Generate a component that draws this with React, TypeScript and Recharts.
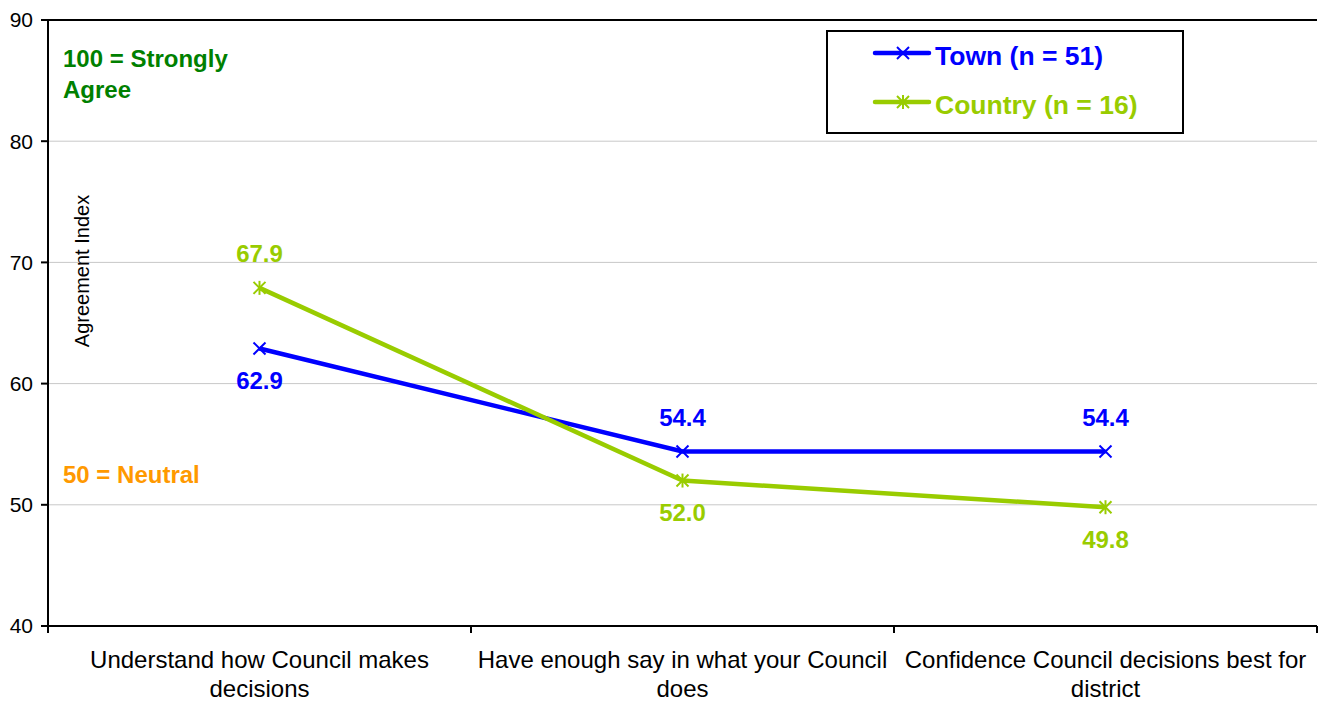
import React from "react";
import {
  LineChart,
  Line,
  XAxis,
  YAxis,
  CartesianGrid,
  ReferenceLine,
  LabelList,
  Legend,
} from "recharts";

const categories = [
  "Understand how Council makes decisions",
  "Have enough say in what your Council does",
  "Confidence Council decisions best for district",
];
const categoryLines = [
  ["Understand how Council makes", "decisions"],
  ["Have enough say in what your Council", "does"],
  ["Confidence Council decisions best for", "district"],
];
const townValues = [62.9, 54.4, 54.4];
const countryValues = [67.9, 52.0, 49.8];
const yTicks = [40, 50, 60, 70, 80, 90];
const townLabelSides = ["below", "above", "above"];
const countryLabelSides = ["above", "below", "below"];

const BLUE = "#0000FF";
const GREEN = "#99CC00";
const FONT = "Arial, 'Liberation Sans', sans-serif";

const W = 1320;
const H = 702;
const MARGIN = { top: 20, right: 3, bottom: 0, left: 0 };
const Y_AXIS_W = 48;
const X_AXIS_H = 76;
const BAND = (W - MARGIN.left - MARGIN.right - Y_AXIS_W) / categories.length;

const data = categories.map((name, i) => ({
  name,
  town: townValues[i],
  country: countryValues[i],
}));

const series = [
  { key: "town", label: "Town (n = 51)", color: BLUE, star: false },
  { key: "country", label: "Country (n = 16)", color: GREEN, star: true },
];

const Marker = ({ cx, cy, color, star }: any) => {
  if (cx == null || cy == null) return null;
  const s = 6;
  return (
    <g>
      <line x1={cx - s} y1={cy - s} x2={cx + s} y2={cy + s} stroke={color} strokeWidth={2} />
      <line x1={cx - s} y1={cy + s} x2={cx + s} y2={cy - s} stroke={color} strokeWidth={2} />
      {star && <line x1={cx} y1={cy - s - 1} x2={cx} y2={cy + s + 1} stroke={color} strokeWidth={2} />}
    </g>
  );
};

// category labels sit in the middle of each band, tick marks on the band edges
const CategoryTick = (props: any) => {
  const { x, y, payload } = props;
  const i = categories.indexOf(payload.value);
  const lines = categoryLines[i] || [payload.value];
  return (
    <g>
      <line x1={x - BAND / 2} y1={y} x2={x - BAND / 2} y2={y + 7} stroke="#000" strokeWidth={2} />
      {i === categories.length - 1 && (
        <line x1={x + BAND / 2} y1={y} x2={x + BAND / 2} y2={y + 7} stroke="#000" strokeWidth={2} />
      )}
      {lines.map((t, k) => (
        <text
          key={k}
          x={x}
          y={y + 42 + k * 29}
          textAnchor="middle"
          fontSize={24}
          fontFamily={FONT}
          fill="#000"
        >
          {t}
        </text>
      ))}
    </g>
  );
};

const makeLabel = (color: string, sides: string[]) => (props: any) => {
  const { x, y, value, index } = props;
  const below = sides[index] === "below";
  return (
    <text
      x={x}
      y={below ? y + 32 : y - 34}
      dy="0.355em"
      textAnchor="middle"
      fontSize={24}
      fontWeight="bold"
      fontFamily={FONT}
      fill={color}
    >
      {Number(value).toFixed(1)}
    </text>
  );
};

const LegendBox = () => (
  <div
    style={{
      width: 358,
      height: 104,
      border: "2px solid #000",
      boxSizing: "border-box",
      background: "#fff",
    }}
  >
    <svg width={354} height={100} style={{ display: "block" }}>
      {series.map((s, i) => {
        const ly = 21 + i * 49;
        return (
          <g key={s.key}>
            <line x1={47} y1={ly} x2={101} y2={ly} stroke={s.color} strokeWidth={4.5} strokeLinecap="round" />
            <Marker cx={75} cy={ly} color={s.color} star={s.star} />
            <text
              x={107}
              y={ly + 3}
              dominantBaseline="central"
              fontSize={26.5}
              fontWeight="bold"
              fontFamily={FONT}
              fill={s.color}
            >
              {s.label}
            </text>
          </g>
        );
      })}
    </svg>
  </div>
);

export default function App() {
  return (
    <div style={{ position: "absolute", left: 0, top: 0, width: W, height: H, background: "#fff" }}>
      <LineChart width={W} height={H} data={data} margin={MARGIN}>
        <CartesianGrid vertical={false} stroke="#c8c8c8" strokeWidth={1} />
        <XAxis
          dataKey="name"
          height={X_AXIS_H}
          padding={{ left: BAND / 2, right: BAND / 2 }}
          axisLine={{ stroke: "#000", strokeWidth: 2 }}
          tickLine={false}
          tickSize={0}
          tickMargin={0}
          interval={0}
          tick={<CategoryTick />}
        />
        <YAxis
          width={Y_AXIS_W}
          domain={[40, 90]}
          ticks={yTicks}
          interval={0}
          axisLine={{ stroke: "#000", strokeWidth: 2 }}
          tickLine={{ stroke: "#000", strokeWidth: 2 }}
          tickSize={7}
          tickMargin={8}
          tick={{ fill: "#000", fontSize: 21, fontFamily: FONT }}
        />
        <YAxis
          yAxisId="right"
          orientation="right"
          width={0}
          tick={false}
          tickLine={false}
          axisLine={{ stroke: "#000", strokeWidth: 2 }}
        />
        <ReferenceLine y={90} stroke="#000" strokeWidth={2} />
        <Legend
          layout="vertical"
          align="center"
          verticalAlign="middle"
          wrapperStyle={{ left: 826, top: 30, width: 358, height: 104 }}
          content={<LegendBox />}
        />
        <Line
          dataKey="town"
          stroke={BLUE}
          strokeWidth={4.5}
          isAnimationActive={false}
          dot={(p: any) => <Marker key={`t${p.index}`} cx={p.cx} cy={p.cy} color={BLUE} />}
          activeDot={false}
        >
          <LabelList dataKey="town" content={makeLabel(BLUE, townLabelSides)} />
        </Line>
        <Line
          dataKey="country"
          stroke={GREEN}
          strokeWidth={4.5}
          isAnimationActive={false}
          dot={(p: any) => <Marker key={`c${p.index}`} cx={p.cx} cy={p.cy} color={GREEN} star />}
          activeDot={false}
        >
          <LabelList dataKey="country" content={makeLabel(GREEN, countryLabelSides)} />
        </Line>
      </LineChart>
      <svg
        width={W}
        height={H}
        style={{ position: "absolute", left: 0, top: 0, pointerEvents: "none" }}
      >
        <text x={63} y={67} fontSize={24} fontWeight="bold" fontFamily={FONT} fill="#008000">
          100 = Strongly
        </text>
        <text x={63} y={98} fontSize={24} fontWeight="bold" fontFamily={FONT} fill="#008000">
          Agree
        </text>
        <text x={63} y={483} fontSize={24} fontWeight="bold" fontFamily={FONT} fill="#FF9900">
          50 = Neutral
        </text>
        <text
          x={89}
          y={271}
          textAnchor="middle"
          fontSize={20}
          fontFamily={FONT}
          fill="#000"
          transform="rotate(-90 89 271)"
        >
          Agreement Index
        </text>
      </svg>
    </div>
  );
}
